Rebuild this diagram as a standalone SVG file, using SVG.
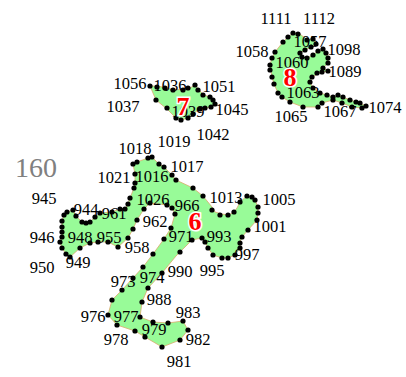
<svg xmlns="http://www.w3.org/2000/svg" width="406" height="377" viewBox="0 0 406 377">
<style>
.a{fill:#98fb98;stroke:#dcaa6a;stroke-width:0.8;stroke-linejoin:round}
.d circle{fill:#000}
.t{font-family:"Liberation Serif","Times New Roman",serif;font-size:16.5px;fill:#000;text-anchor:middle}
.n{font-family:"Liberation Serif","Times New Roman",serif;font-size:26px;font-weight:bold;fill:#f00;stroke:#fff;stroke-width:3;paint-order:stroke;text-anchor:middle}
.g{font-family:"Liberation Serif","Times New Roman",serif;font-size:28px;fill:#808080;text-anchor:middle}
</style>
<rect width="406" height="377" fill="#fff"/>
<text class="g" x="36" y="177">160</text>

<g id="region6">
<polygon class="a" points="133,164 137,162 148,158 152,157 159,164 164,167 172,175 176,180 193,188 203,196 212,207 215,212 222,214 228,215 233,213 237,208 240,202 247,196 252,197 255,200 258,207 258,213 257,220 248,230 242,237 240,242 240,248 235,255 228,258 222,258 213,255 208,248 205,242 202,238 192,240 180,252 176,256 162,273 148,288 142,302 140,317 153,322 168,323 183,321 188,330 180,340 162,347 145,337 135,331 117,325 108,315 112,300 122,290 133,278 143,267 153,254 164,239 171,228 175,214 172,208 167,205 150,203 144,209 137,220 133,229 128,238 118,247 108,242 98,242 90,243 80,248 70,257 66,254 62,248 60,242 62,237 62,227 62,221 64,215 67,212 73,210 76,216 82,222 86,223 90,222 95,217 100,213 112,212 120,209 125,209 128,204 130,198 134,188 135,183 135,174"/>
<g class="d">
<circle cx="133" cy="164" r="2.6"/><circle cx="137" cy="162" r="2.6"/><circle cx="148" cy="158" r="2.6"/><circle cx="152" cy="157" r="2.6"/><circle cx="159" cy="164" r="2.6"/><circle cx="164" cy="167" r="2.6"/><circle cx="172" cy="175" r="2.6"/><circle cx="176" cy="180" r="2.6"/><circle cx="193" cy="188" r="2.6"/><circle cx="203" cy="196" r="2.6"/><circle cx="212" cy="210" r="2.6"/><circle cx="220" cy="215" r="2.6"/><circle cx="228" cy="215" r="2.6"/><circle cx="234" cy="212" r="2.6"/><circle cx="240" cy="202" r="2.6"/><circle cx="247" cy="196" r="2.6"/><circle cx="252" cy="197" r="2.6"/><circle cx="255" cy="200" r="2.6"/><circle cx="258" cy="207" r="2.6"/><circle cx="258" cy="213" r="2.6"/><circle cx="257" cy="220" r="2.6"/><circle cx="248" cy="230" r="2.6"/><circle cx="242" cy="237" r="2.6"/><circle cx="240" cy="243" r="2.6"/><circle cx="240" cy="248" r="2.6"/><circle cx="235" cy="255" r="2.6"/><circle cx="228" cy="258" r="2.6"/><circle cx="222" cy="258" r="2.6"/><circle cx="213" cy="255" r="2.6"/><circle cx="208" cy="248" r="2.6"/><circle cx="205" cy="242" r="2.6"/><circle cx="202" cy="238" r="2.6"/><circle cx="192" cy="240" r="2.6"/><circle cx="180" cy="252" r="2.6"/><circle cx="162" cy="273" r="2.6"/><circle cx="148" cy="288" r="2.6"/><circle cx="142" cy="302" r="2.6"/><circle cx="140" cy="317" r="2.6"/><circle cx="153" cy="322" r="2.6"/><circle cx="168" cy="323" r="2.6"/><circle cx="183" cy="321" r="2.6"/><circle cx="188" cy="330" r="2.6"/><circle cx="180" cy="340" r="2.6"/><circle cx="162" cy="347" r="2.6"/><circle cx="145" cy="337" r="2.6"/><circle cx="135" cy="331" r="2.6"/><circle cx="117" cy="325" r="2.6"/><circle cx="108" cy="315" r="2.6"/><circle cx="112" cy="300" r="2.6"/><circle cx="122" cy="290" r="2.6"/><circle cx="133" cy="278" r="2.6"/><circle cx="143" cy="267" r="2.6"/><circle cx="153" cy="254" r="2.6"/><circle cx="164" cy="239" r="2.6"/><circle cx="171" cy="228" r="2.6"/><circle cx="175" cy="214" r="2.6"/><circle cx="172" cy="208" r="2.6"/><circle cx="167" cy="205" r="2.6"/><circle cx="150" cy="203" r="2.6"/><circle cx="144" cy="209" r="2.6"/><circle cx="137" cy="220" r="2.6"/><circle cx="133" cy="229" r="2.6"/><circle cx="128" cy="238" r="2.6"/><circle cx="118" cy="247" r="2.6"/><circle cx="108" cy="242" r="2.6"/><circle cx="98" cy="242" r="2.6"/><circle cx="90" cy="243" r="2.6"/><circle cx="80" cy="248" r="2.6"/><circle cx="70" cy="257" r="2.6"/><circle cx="66" cy="254" r="2.6"/><circle cx="62" cy="248" r="2.6"/><circle cx="60" cy="242" r="2.6"/><circle cx="62" cy="237" r="2.6"/><circle cx="62" cy="232" r="2.6"/><circle cx="62" cy="227" r="2.6"/><circle cx="62" cy="221" r="2.6"/><circle cx="64" cy="215" r="2.6"/><circle cx="67" cy="212" r="2.6"/><circle cx="73" cy="210" r="2.6"/><circle cx="76" cy="216" r="2.6"/><circle cx="82" cy="222" r="2.6"/><circle cx="86" cy="223" r="2.6"/><circle cx="90" cy="222" r="2.6"/><circle cx="95" cy="217" r="2.6"/><circle cx="100" cy="213" r="2.6"/><circle cx="112" cy="212" r="2.6"/><circle cx="120" cy="209" r="2.6"/><circle cx="125" cy="209" r="2.6"/><circle cx="128" cy="204" r="2.6"/><circle cx="130" cy="198" r="2.6"/><circle cx="134" cy="188" r="2.6"/><circle cx="135" cy="183" r="2.6"/><circle cx="135" cy="174" r="2.6"/>
</g>
<text class="t" x="135" y="154">1018</text>
<text class="t" x="174" y="147">1019</text>
<text class="t" x="187" y="172">1017</text>
<text class="t" x="114" y="183">1021</text>
<text class="t" x="152" y="182">1016</text>
<text class="t" x="44" y="204">945</text>
<text class="t" x="153" y="205">1026</text>
<text class="t" x="187" y="211">966</text>
<text class="t" x="226" y="203">1013</text>
<text class="t" x="279" y="205">1005</text>
<text class="t" x="86" y="215">944</text>
<text class="t" x="114" y="219">961</text>
<text class="t" x="155" y="227">962</text>
<text class="t" x="270" y="232">1001</text>
<text class="t" x="42" y="243">946</text>
<text class="t" x="80" y="243">948</text>
<text class="t" x="109" y="243">955</text>
<text class="t" x="181" y="242">971</text>
<text class="t" x="219" y="242">993</text>
<text class="t" x="137" y="253">958</text>
<text class="t" x="247" y="260">997</text>
<text class="t" x="78" y="268">949</text>
<text class="t" x="42" y="273">950</text>
<text class="t" x="212" y="276">995</text>
<text class="t" x="180" y="277">990</text>
<text class="t" x="152" y="283">974</text>
<text class="t" x="123" y="287">973</text>
<text class="t" x="159" y="305">988</text>
<text class="t" x="188" y="318">983</text>
<text class="t" x="93" y="322">976</text>
<text class="t" x="126" y="322">977</text>
<text class="t" x="154" y="335">979</text>
<text class="t" x="116" y="345">978</text>
<text class="t" x="198" y="345">982</text>
<text class="t" x="179" y="367">981</text>
<text class="n" x="195" y="230">6</text>
</g>

<g id="region7">
<polygon class="a" points="150,86 158,86 166,88 175,90 184,89 190,88 195,85 199,90 204,95 210,97 214,101 214,105 211,107 205,108 199,109 193,114 188,118 181,120 175,117 167,109 156,100"/>
<g class="d">
<circle cx="150" cy="86" r="2.6"/><circle cx="157" cy="87" r="2.6"/><circle cx="165" cy="88" r="2.6"/><circle cx="173" cy="90" r="2.6"/><circle cx="183" cy="90" r="2.6"/><circle cx="188" cy="88" r="2.6"/><circle cx="195" cy="85" r="2.6"/><circle cx="198" cy="90" r="2.6"/><circle cx="203" cy="95" r="2.6"/><circle cx="210" cy="97" r="2.6"/><circle cx="213" cy="100" r="2.6"/><circle cx="215" cy="104" r="2.6"/><circle cx="211" cy="107" r="2.6"/><circle cx="205" cy="108" r="2.6"/><circle cx="200" cy="109" r="2.6"/><circle cx="193" cy="114" r="2.6"/><circle cx="188" cy="118" r="2.6"/><circle cx="181" cy="120" r="2.6"/><circle cx="176" cy="118" r="2.6"/><circle cx="167" cy="108" r="2.6"/><circle cx="156" cy="100" r="2.6"/>
</g>
<text class="t" x="130" y="89">1056</text>
<text class="t" x="170" y="91">1036</text>
<text class="t" x="219" y="92">1051</text>
<text class="t" x="123" y="112">1037</text>
<text class="t" x="188" y="117">1039</text>
<text class="t" x="232" y="115">1045</text>
<text class="t" x="213" y="140">1042</text>
<text class="n" x="183" y="115">7</text>
</g>

<g id="region8">
<polygon class="a" points="283,42 288,37 293,33 300,34 307,40 313,39 316,44 311,47 305,50 300,53 302,57 307,58 313,55 318,51 323,49 326,53 328,58 328,63 323,68 328,71 320,73 312,77 310,82 313,88 320,93 327,95 333,97 338,95 343,97 350,100 360,103 366,106 362,108 352,107 342,103 333,100 322,103 318,107 303,107 290,102 282,97 278,93 274,84 272,77 270,65 272,58 275,52"/>
<g class="d">
<circle cx="283" cy="42" r="2.6"/><circle cx="288" cy="37" r="2.6"/><circle cx="293" cy="33" r="2.6"/><circle cx="298" cy="34" r="2.6"/><circle cx="307" cy="40" r="2.6"/><circle cx="313" cy="39" r="2.6"/><circle cx="316" cy="44" r="2.6"/><circle cx="311" cy="47" r="2.6"/><circle cx="305" cy="50" r="2.6"/><circle cx="300" cy="53" r="2.6"/><circle cx="302" cy="57" r="2.6"/><circle cx="307" cy="58" r="2.6"/><circle cx="313" cy="55" r="2.6"/><circle cx="318" cy="51" r="2.6"/><circle cx="323" cy="49" r="2.6"/><circle cx="326" cy="53" r="2.6"/><circle cx="328" cy="58" r="2.6"/><circle cx="328" cy="63" r="2.6"/><circle cx="323" cy="68" r="2.6"/><circle cx="328" cy="71" r="2.6"/><circle cx="322" cy="72" r="2.6"/><circle cx="317" cy="73" r="2.6"/><circle cx="312" cy="77" r="2.6"/><circle cx="310" cy="82" r="2.6"/><circle cx="313" cy="88" r="2.6"/><circle cx="320" cy="93" r="2.6"/><circle cx="327" cy="95" r="2.6"/><circle cx="333" cy="97" r="2.6"/><circle cx="338" cy="95" r="2.6"/><circle cx="343" cy="97" r="2.6"/><circle cx="350" cy="100" r="2.6"/><circle cx="356" cy="102" r="2.6"/><circle cx="360" cy="103" r="2.6"/><circle cx="366" cy="106" r="2.6"/><circle cx="362" cy="108" r="2.6"/><circle cx="352" cy="107" r="2.6"/><circle cx="342" cy="103" r="2.6"/><circle cx="333" cy="100" r="2.6"/><circle cx="322" cy="103" r="2.6"/><circle cx="318" cy="107" r="2.6"/><circle cx="303" cy="107" r="2.6"/><circle cx="290" cy="102" r="2.6"/><circle cx="282" cy="97" r="2.6"/><circle cx="278" cy="93" r="2.6"/><circle cx="274" cy="84" r="2.6"/><circle cx="272" cy="77" r="2.6"/><circle cx="270" cy="70" r="2.6"/><circle cx="270" cy="65" r="2.6"/><circle cx="272" cy="58" r="2.6"/><circle cx="275" cy="52" r="2.6"/>
</g>
<text class="t" x="276" y="24">1111</text>
<text class="t" x="319" y="24">1112</text>
<text class="t" x="310" y="47">1057</text>
<text class="t" x="344" y="55">1098</text>
<text class="t" x="252" y="57">1058</text>
<text class="t" x="292" y="68">1060</text>
<text class="t" x="345" y="77">1089</text>
<text class="t" x="303" y="98">1063</text>
<text class="t" x="291" y="122">1065</text>
<text class="t" x="340" y="117">1067</text>
<text class="t" x="385" y="113">1074</text>
<text class="n" x="290" y="86">8</text>
</g>
</svg>
